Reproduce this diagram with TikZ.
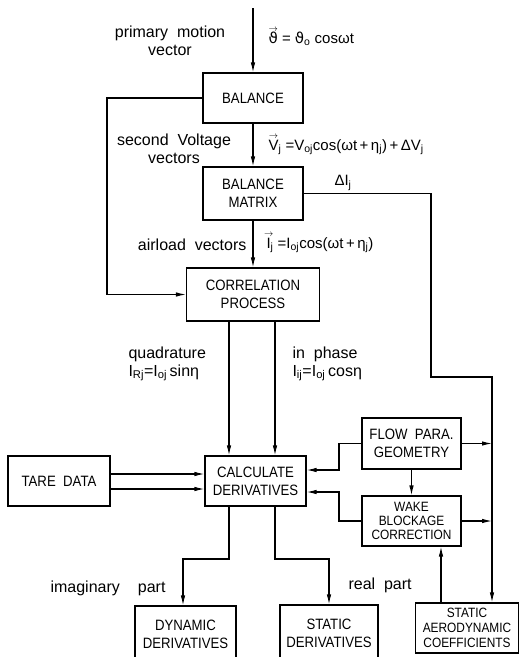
\documentclass[tikz,border=0pt]{standalone}
\usepackage{fontspec}
\setmainfont{Liberation Sans}
\newfontfamily\boxfont[FakeStretch=0.88]{Liberation Sans}
\newfontfamily\dvfont{DejaVu Sans}
\usetikzlibrary{arrows.meta}
\newcommand\ovarr[2]{\ooalign{#2\cr\hidewidth\raisebox{#1}{\fontsize{9}{9}\selectfont$\rightarrow$}\hidewidth\cr}}
\begin{document}
\begin{tikzpicture}[x=1pt,y=-1pt,line width=1.1pt,
  box/.style={draw,align=center,inner sep=0pt,font=\boxfont\fontsize{15}{18}\selectfont},
  sbox/.style={box,font=\boxfont\fontsize{13.5}{14}\selectfont},
  lbl/.style={inner sep=0pt,font=\fontsize{16}{18}\selectfont},
  flbl/.style={inner sep=0pt,font=\fontsize{15}{18}\selectfont},
  arr/.style={-{Latex[length=10pt,width=4.5pt]}}]
\clip (0,0) rectangle (524,657);
% boxes
\node[box,minimum width=100pt,minimum height=50pt] (bal) at (253,98) {BALANCE};
\node[box,minimum width=100pt,minimum height=53pt] (mat) at (253,193.5) {BALANCE\\MATRIX};
\node[box,minimum width=133pt,minimum height=53pt] (cor) at (253,294.5) {CORRELATION\\PROCESS};
\node[box,minimum width=101pt,minimum height=50pt] (calc) at (255.5,481) {CALCULATE\\DERIVATIVES};
\node[box,minimum width=102pt,minimum height=50pt] (tare) at (59,481) {TARE\ \ DATA};
\node[box,minimum width=99pt,minimum height=51pt] (flow) at (411.5,443.5) {FLOW\ \ PARA.\\GEOMETRY};
\node[sbox,minimum width=99pt,minimum height=50pt] (wake) at (411.5,521) {WAKE\\BLOCKAGE\\CORRECTION};
\node[sbox,minimum width=103pt,minimum height=50pt,font=\boxfont\fontsize{13.5}{15}\selectfont] (aero) at (467,628) {STATIC\\AERODYNAMIC\\COEFFICIENTS};
\node[box,minimum width=101pt,minimum height=56pt] (dyn) at (185.5,634) {DYNAMIC\\DERIVATIVES};
\node[box,minimum width=98pt,minimum height=56pt] (sta) at (329,633) {STATIC\\DERIVATIVES};
% helper coordinates
\coordinate (top) at (253,8);
\coordinate (fb) at (107,98);
\coordinate (d1) at (431,193.5);
\coordinate (d2) at (431,377);
\coordinate (d3) at (492,377);
\coordinate (ax) at (441,0);
\coordinate (jx) at (339,0);
\coordinate (c1) at (0,470);
\coordinate (c2) at (0,492);
\coordinate (t1) at (0,474);
\coordinate (t2) at (0,489);
\coordinate (q1) at (229,0);
\coordinate (q2) at (275,0);
\coordinate (b1) at (183,559);
\coordinate (b2) at (329,559);
% connectors
\draw[arr] (top) -- (bal.north);
\draw[arr] (bal.west) -- (fb) |- (cor.west);
\draw[arr] (bal.south) -- (mat.north);
\draw[arr] (mat.south) -- (cor.north);
\draw[arr] (mat.east) -- (d1) -- (d2) -- (d3) -- (d3 |- aero.north);
\draw[arr] (aero.north -| ax) -- (wake.south -| ax);
\draw[arr] (flow.south) -- (wake.north);
\draw[arr] (flow.east) -- (flow.east -| d3);
\draw[arr] (wake.east) -- (wake.east -| d3);
\draw[arr] (flow.west) -- (flow.west -| jx) -- (jx |- c1) -- (calc.east |- c1);
\draw[arr] (wake.west) -- (wake.west -| jx) -- (jx |- c2) -- (calc.east |- c2);
\draw[arr] (tare.east |- t1) -- (calc.west |- t1);
\draw[arr] (tare.east |- t2) -- (calc.west |- t2);
\draw[arr] (cor.south -| q1) -- (calc.north -| q1);
\draw[arr] (cor.south -| q2) -- (calc.north -| q2);
\draw[arr] (calc.south -| q1) |- (b1) -- (dyn.north -| b1);
\draw[arr] (calc.south -| q2) |- (b2) -- (sta.north -| b2);
% labels
\node[lbl,align=center] (l1) at (170,41) {primary\ \ motion\\vector};
\node[flbl,anchor=west] (f1) at (268,39) {\ovarr{12.5pt}{\dvfont ϑ} = {\dvfont ϑ}\textsubscript{o} cosωt};
\node[lbl,align=center] (l2) at (174,149) {second\ \ Voltage\\vectors};
\node[flbl,anchor=west] (f2) at (268,147) {\ovarr{11.5pt}{V}\textsubscript{j} =V\textsubscript{oj}cos(ωt\,+\,η\textsubscript{j})\,+\,ΔV\textsubscript{j}};
\node[flbl,anchor=west] (f3) at (334,183) {ΔI\textsubscript{j}};
\node[lbl,anchor=east] (l3) at (247,245) {airload\ \ vectors};
\node[flbl,anchor=west] (f4) at (266,245) {\ovarr{11.5pt}{I}\textsubscript{j} =I\textsubscript{oj}cos(ωt\,+\,η\textsubscript{j})};
\node[lbl,anchor=west,align=left] (l4) at (128,364) {quadrature\\I\textsubscript{Rj}=I\textsubscript{oj}\,sinη};
\node[lbl,anchor=west,align=left] (l5) at (292,364) {in\ \ phase\\I\textsubscript{ij}=I\textsubscript{oj}\,cosη};
\node[lbl,anchor=west] (l6) at (50,588) {imaginary\hspace{18pt}part};
\node[lbl,anchor=west] (l7) at (348,585) {real\ \ part};
\end{tikzpicture}
\end{document}
